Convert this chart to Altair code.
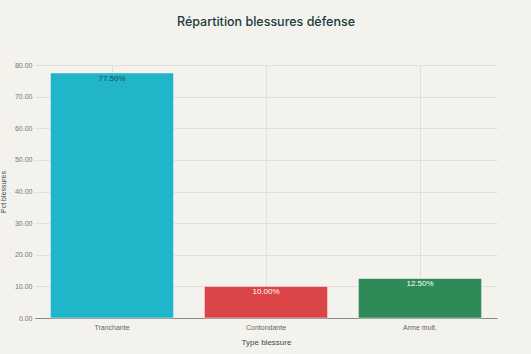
import altair as alt
import pandas as pd

categories = ["Tranchante", "Contondante", "Arme mult."]
values = [77.5, 10.0, 12.5]
colors = ["#20b5c9", "#db4548", "#2e8b57"]
label_colors = ["#1f4a52", "#ffffff", "#ffffff"]

df = pd.DataFrame({"type": categories, "pct": values, "lab": [f"{v:.2f}%" for v in values], "lc": label_colors})

font = "Liberation Sans"

x = alt.X("type:N", sort=categories, title="Type blessure",
          scale=alt.Scale(paddingInner=0.2, paddingOuter=0.1),
          axis=alt.Axis(labelAngle=0, labelFontSize=7, labelColor="#666666", titleFontSize=8,
                        titleColor="#3d4a4c", titleFontWeight=400, ticks=False,
                        domainColor="#888888", gridColor="#e0e0da", grid=True,
                        labelPadding=5, titlePadding=8, labelFont=font, titleFont=font))
y = alt.Y("pct:Q", title="Pct blessures", scale=alt.Scale(domain=[0, 80], nice=False),
          axis=alt.Axis(format=".2f", values=list(range(0, 81, 10)), labelFontSize=7,
                        labelOverlap=False,
                        labelColor="#777777", titleFontSize=7, titleColor="#3d4a4c",
                        titleFontWeight=400, ticks=False, domain=False, gridColor="#e0e0da",
                        labelPadding=3, titlePadding=8, labelFont=font, titleFont=font))

bars = alt.Chart(df).mark_bar(stroke="#ffffff", strokeWidth=0.5).encode(
    x=x, y=y,
    color=alt.Color("type:N", scale=alt.Scale(domain=categories, range=colors), legend=None),
)
text = alt.Chart(df).mark_text(baseline="top", dy=2, fontSize=8, font=font).encode(
    x=x, y=y, text="lab:N",
    color=alt.Color("lc:N", scale=None),
)

chart = (bars + text).properties(
    width=462, height=253,
    title=alt.TitleParams("Répartition blessures défense", fontSize=12.5, font="Inter",
                          color="#1b3a3f", fontWeight=500, anchor="middle", offset=33),
    background="#f3f2ec",
    padding={"left": 35, "top": 65, "right": 34, "bottom": 36},
    autosize=alt.AutoSizeParams(type="none"),
).configure_view(stroke=None)

chart.save("out.html", embed_options={"renderer": "svg", "actions": False})
